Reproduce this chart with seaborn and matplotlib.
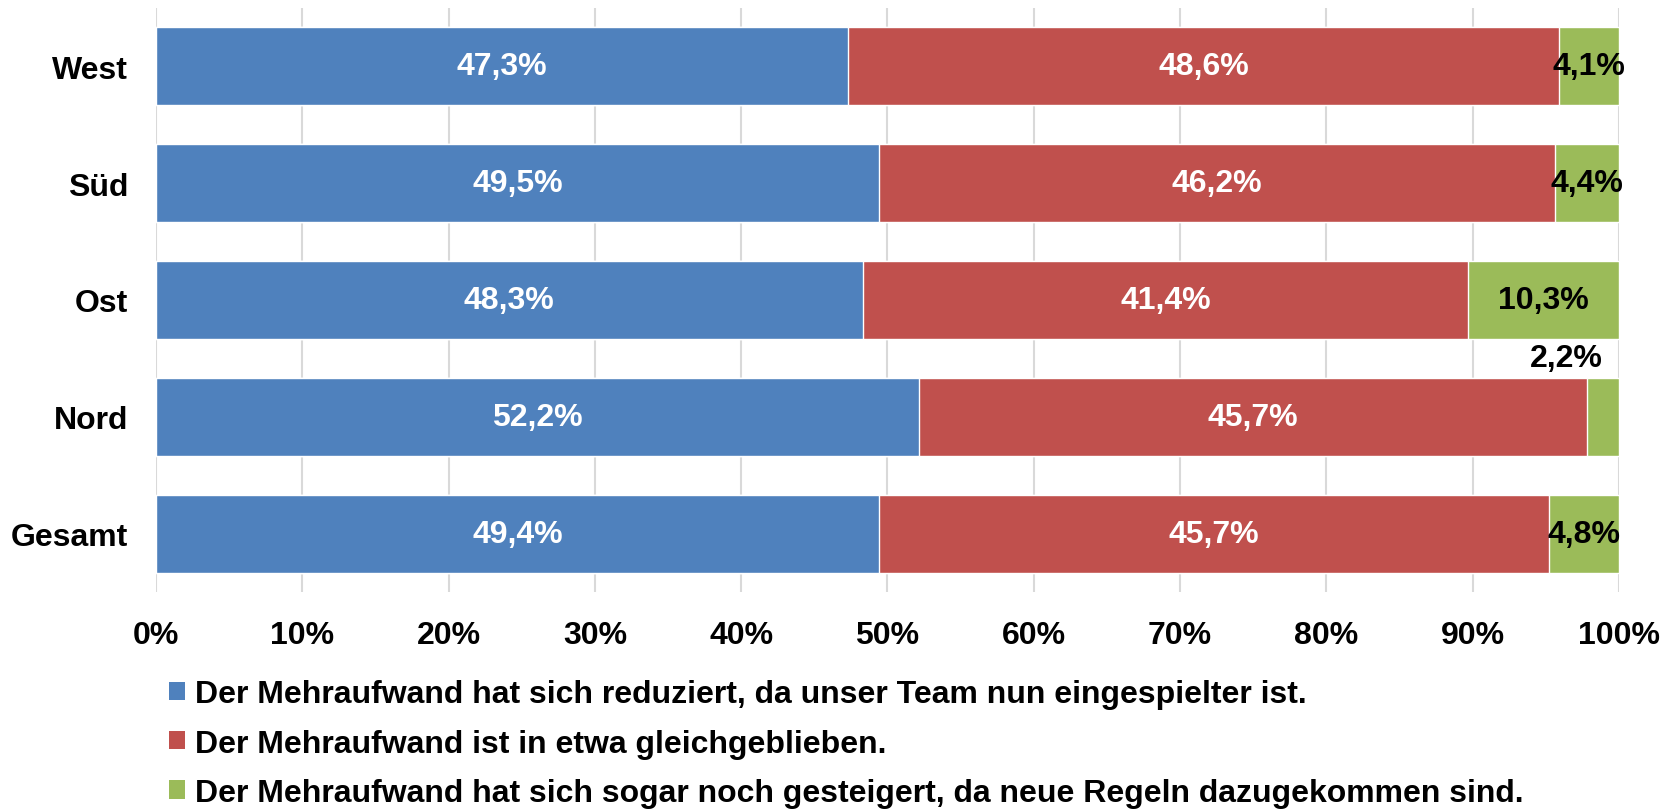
import matplotlib
matplotlib.use("Agg")
import matplotlib.pyplot as plt
import seaborn as sns
import pandas as pd
from matplotlib.patches import Patch

# Data
regions = ["West", "Süd", "Ost", "Nord", "Gesamt"]
reduziert = [47.3, 49.5, 48.3, 52.2, 49.4]
gleich = [48.6, 46.2, 41.4, 45.7, 45.7]
gesteigert = [4.1, 4.4, 10.3, 2.2, 4.8]
series_names = [
    "Der Mehraufwand hat sich reduziert, da unser Team nun eingespielter ist.",
    "Der Mehraufwand ist in etwa gleichgeblieben.",
    "Der Mehraufwand hat sich sogar noch gesteigert, da neue Regeln dazugekommen sind.",
]
colors = ["#4F81BD", "#C0504D", "#9BBB59"]
label_colors = ["white", "white", "black"]

sns.set_style("white")
plt.rcParams["font.family"] = ["Liberation Sans", "DejaVu Sans"]
plt.rcParams["font.weight"] = "bold"
plt.rcParams["text.color"] = "black"
plt.rcParams["xtick.color"] = "black"
plt.rcParams["ytick.color"] = "black"

FS = 23

df = pd.DataFrame({"region": regions, "a": reduziert, "b": gleich, "c": gesteigert})
# 100% stacked: normalise each row
tot = df[["a", "b", "c"]].sum(axis=1)
for col in ["a", "b", "c"]:
    df[col + "_n"] = df[col] / tot * 100
df["cum1"] = df["a_n"]
df["cum2"] = df["a_n"] + df["b_n"]
df["cum3"] = df["cum2"] + df["c_n"]

fig = plt.figure(figsize=(16.77, 8.12), dpi=100)
ax = fig.add_axes([0.093, 0.2697, 0.8724, 0.7193])

# draw from the back (full stack) to the front
for col, c in zip(["cum3", "cum2", "cum1"], colors[::-1]):
    sns.barplot(data=df, x=col, y="region", order=regions, color=c,
                width=0.667, saturation=1, ax=ax, zorder=2)

# segment labels
starts = [[0] * 5, list(df["cum1"]), list(df["cum2"])]
widths = [list(df["a_n"]), list(df["b_n"]), list(df["c_n"])]
raw = [reduziert, gleich, gesteigert]
for s in range(3):
    for i in range(len(regions)):
        txt = f"{raw[s][i]:.1f}%".replace(".", ",")
        xc = starts[s][i] + widths[s][i] / 2
        if regions[i] == "Nord" and s == 2:
            ax.annotate(txt, xy=(xc, i), xytext=(-26, 42), textcoords="offset points",
                        ha="center", va="center", fontsize=FS, fontweight="bold",
                        color=label_colors[s])
        else:
            ax.text(xc, i, txt, ha="center", va="center", fontsize=FS,
                    fontweight="bold", color=label_colors[s], zorder=5)

ax.set_xlim(0, 100)
ax.set_ylim(4.5, -0.5)
ax.set_xticks(range(0, 101, 10))
ax.set_xticklabels([f"{v}%" for v in range(0, 101, 10)])
ax.tick_params(axis="both", length=0, labelsize=FS, colors="black")
ax.tick_params(axis="y", pad=20)
ax.tick_params(axis="x", pad=20)
ax.xaxis.grid(True, color="#d9d9d9", linewidth=1.5, zorder=0)
ax.set_axisbelow(True)
ax.set_xlabel("")
ax.set_ylabel("")
for sp in ax.spines.values():
    sp.set_visible(False)

handles = [Patch(facecolor=c, edgecolor="none") for c in colors]
fig.legend(handles, series_names, loc="upper left", bbox_to_anchor=(0.101, 0.162),
           frameon=False, handlelength=0.5, handleheight=0.5,
           handletextpad=0.3, labelspacing=0.6, borderpad=0, borderaxespad=0,
           prop={"weight": "bold", "size": FS})

fig.savefig("out.png", dpi=100)
